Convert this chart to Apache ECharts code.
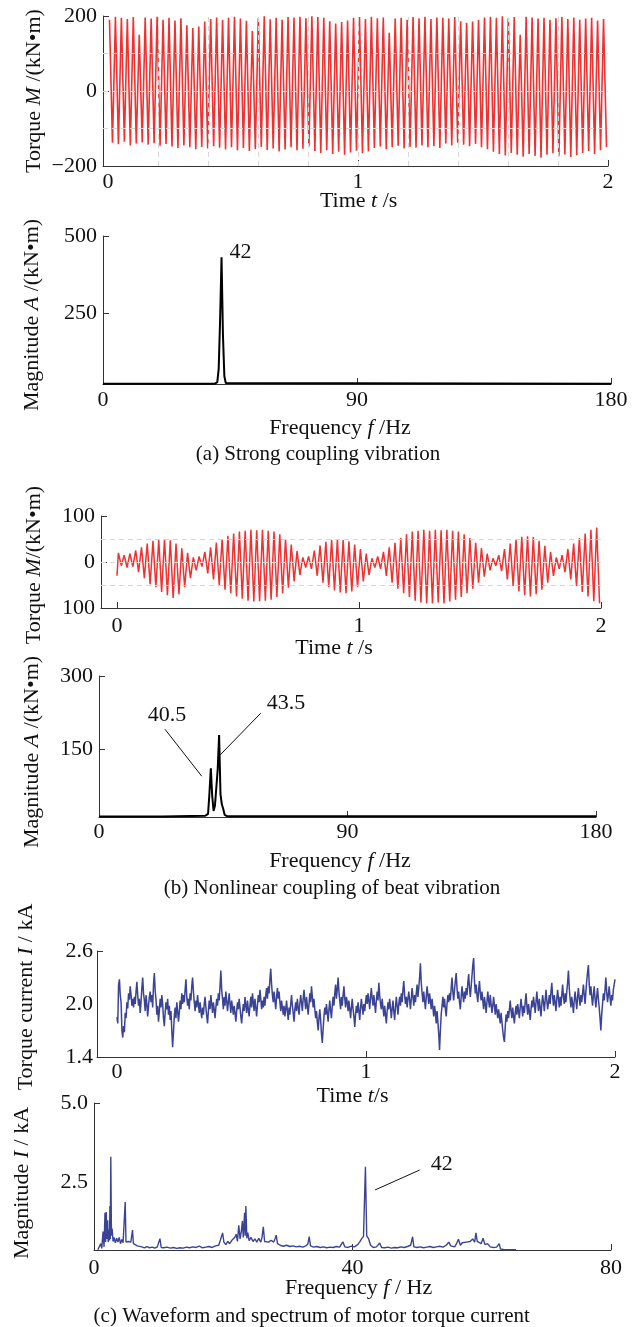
<!DOCTYPE html>
<html>
<head>
<meta charset="utf-8">
<script src="https://cdn.jsdelivr.net/npm/echarts@6/dist/echarts.min.js"></script>
<style>
  html, body { margin: 0; padding: 0; background: #fff; }
  #chart { width: 639px; height: 1327px; }
</style>
</head>
<body>
<div id="chart"></div>
<script>
// ---------- (a) strong coupling: torque waveform, 42 Hz, one crest and one trough per cycle ----------
const HALF_CYCLE = 1 / 84;               // half period of a 42 Hz oscillation, s
const torqueA_crests = [
  190,198,195,192,197,150,196,193,198,190,195,188,194,
  175,168,172,
  185,192,196,190,195,198,193,187,160,194,199,191,195,190,197,
  196,198,194,199,197,195,
  186,180,184,188,
  195,197,192,198,194,196,155,193,195,190,197,194,198,192,196,195,193,197,
  186,182,185,190,
  196,198,195,199,194,197,150,198,196,193,195,190,194,197,192,196,190,193,195,188,192
];
const torqueA_troughs = [
  -138,-142,-135,-145,-140,-137,-143,-139,-146,-141,
  -148,-152,-145,-150,-155,-149,-153,-147,-151,-156,-150,
  -158,-152,-160,-155,-149,-157,-153,-161,-156,-150,-158,-154,-148,
  -160,-165,-158,-168,-162,-170,-164,-159,-166,-161,
  -152,-148,-155,-150,-146,-153,-149,-151,-145,-150,-147,-152,
  -140,-145,-138,-143,-147,-141,-150,-155,
  -162,-168,-172,-165,-170,-175,-168,-173,-178,-170,-166,-174,-169,-176,-171,-165,-160,-168,-158,-150
];
// spectrum of (a): [frequency Hz, magnitude kN·m]
const spectrumA = [
  [0,20.5],[39.5,20.5],[40.5,26],[41,70],[41.5,230],[42,431],[42.5,180],[43,45],[43.5,23],[44,20.5],[180,20.5]
];

// ---------- (b) beat vibration ----------
const torqueB_start = -30;
const torqueB_crests = [
  20,15,18,25,32,40,46,48,50,47,40,30,20,10,
  12,22,32,42,50,57,62,66,68,70,69,70,68,66,60,50,38,24,10,
  12,25,36,44,48,49,48,45,38,28,18,8,
  12,22,32,42,52,60,66,68,70,68,70,69,70,68,66,60,52,42,30,18,8,
  15,28,40,50,55,56,54,46,35,22,10,
  15,28,40,52,62,70,75
];
const torqueB_troughs = [
  -8,-12,-10,-22,-35,-48,-55,-65,-72,-78,-70,-55,-35,-18,
  -10,-25,-38,-50,-60,-68,-75,-80,-84,-86,-85,-84,-82,-76,-68,-56,-42,-28,-12,
  -15,-30,-45,-55,-62,-66,-68,-64,-55,-42,-28,-12,
  -15,-30,-45,-58,-68,-76,-84,-88,-90,-90,-88,-90,-86,-82,-76,-68,-58,-45,-32,-18,-8,
  -20,-38,-52,-64,-72,-75,-70,-60,-45,-30,-15,
  -22,-38,-52,-65,-75,-85,-90
];
const spectrumB = [
  [0,12.5],[23,12.5],[23.5,13.5],[38.5,14],[39.5,18],[40,60],[40.5,111],[41,55],[41.5,24],
  [42,35],[43,110],[43.5,179],[44,58],[44.5,37],[45,28],[45.5,16],[46.5,13],[180,13]
];

// ---------- (c) motor torque current, kA, sampled evenly over 0–2 s ----------
const currentC = [
  1.85,1.78,2.22,2.28,2.10,2.02,1.70,1.62,1.75,1.68,1.90,1.84,2.02,1.95,2.12,2.05,2.20,2.10,1.98,2.06,
  1.96,2.08,2.00,2.14,2.25,2.10,1.98,2.06,1.90,2.02,2.18,2.30,2.12,2.04,1.92,2.10,2.00,1.86,1.98,2.08,
  2.14,2.02,2.10,1.96,2.22,2.35,2.15,2.05,1.88,1.98,1.80,1.92,2.06,1.96,2.10,2.00,1.84,1.75,1.90,2.02,
  1.94,2.06,1.88,1.98,1.82,1.92,1.70,1.51,1.68,1.86,1.96,1.84,2.02,1.92,1.80,1.90,2.04,1.94,2.12,2.00,
  2.10,2.02,2.16,2.28,2.08,1.98,2.06,1.94,2.12,2.04,2.20,2.30,2.14,2.02,1.92,2.04,1.96,2.10,2.00,1.90,
  2.02,1.92,1.84,1.96,1.88,2.00,2.08,1.96,1.86,1.78,1.92,2.04,1.94,2.10,2.00,1.90,2.02,1.94,1.84,1.96,
  2.06,1.98,2.12,2.04,2.20,2.38,2.16,2.06,1.94,2.08,1.98,2.14,2.04,1.92,2.02,2.12,2.00,1.90,2.04,1.96,
  1.88,1.98,1.90,1.80,1.92,2.02,1.94,2.06,1.96,1.86,1.78,1.90,2.00,1.92,2.08,1.98,1.90,2.04,1.94,1.86,
  1.98,2.08,1.96,2.12,2.02,1.92,2.06,1.96,1.86,1.98,2.10,2.02,2.16,2.06,1.94,2.04,1.96,2.08,1.98,2.10,
  2.18,2.06,2.20,2.12,2.28,2.40,2.22,2.10,2.02,2.14,2.04,1.94,2.08,2.18,2.06,2.14,2.02,1.92,2.04,1.96,
  1.88,1.98,1.86,1.94,2.04,1.92,1.82,1.96,1.88,2.00,2.10,1.98,1.90,1.80,1.94,2.02,1.92,2.06,1.96,1.88,
  2.00,2.10,2.02,1.92,2.06,2.16,2.04,1.94,2.08,1.98,1.88,2.00,2.12,2.02,2.20,2.08,1.96,2.06,1.94,1.84,
  1.92,1.80,1.70,1.84,1.94,1.82,1.66,1.56,1.72,1.86,1.96,1.88,2.00,1.90,1.80,1.94,2.04,1.92,1.84,1.98,
  2.08,1.98,2.12,2.22,2.06,2.16,2.30,2.14,2.04,1.94,2.08,1.98,2.10,2.20,2.06,1.96,2.08,2.02,1.92,2.04,
  1.94,1.84,1.96,2.06,1.94,1.86,1.74,1.88,1.98,1.90,2.02,1.92,1.82,1.96,2.06,1.96,1.88,2.00,1.92,2.02,
  2.10,2.00,2.12,2.04,1.94,2.08,2.18,2.06,1.98,2.10,2.00,1.90,2.04,2.14,2.04,2.24,2.10,2.00,1.94,2.06,
  1.96,1.86,1.98,1.88,1.78,1.92,2.02,1.94,2.06,1.96,1.84,1.94,2.04,1.92,1.82,1.96,2.08,1.98,1.88,2.00,
  2.08,1.98,2.12,2.02,2.16,2.26,2.10,2.00,2.08,1.96,2.06,2.14,2.04,1.94,2.06,2.18,2.08,1.98,2.10,2.02,
  2.12,2.22,2.08,2.18,2.30,2.46,2.24,2.12,2.02,2.14,2.04,1.94,2.08,2.20,2.10,2.00,2.12,2.04,1.94,2.06,
  1.96,1.86,1.98,1.90,1.78,1.92,1.80,1.66,1.48,1.70,1.88,1.98,2.08,1.96,2.06,1.94,1.86,2.00,2.10,2.02,
  2.12,2.04,2.18,2.30,2.14,2.04,2.16,2.26,2.35,2.18,2.06,2.14,2.02,1.94,2.08,2.20,2.10,2.02,2.14,2.06,
  2.18,2.10,2.24,2.34,2.18,2.08,2.20,2.32,2.44,2.52,2.26,2.12,2.22,2.10,2.02,2.16,2.26,2.12,2.04,2.14,
  2.04,1.94,2.08,2.00,1.90,2.02,2.14,2.04,1.96,2.10,2.00,1.90,1.98,2.08,1.98,1.88,2.00,1.92,1.84,1.94,
  1.86,1.78,1.90,1.80,1.70,1.62,1.57,1.74,1.88,1.80,1.92,1.84,1.94,2.04,1.92,1.84,1.96,1.86,1.78,1.90,
  1.98,1.88,2.00,1.92,1.84,1.96,2.06,1.96,1.86,1.98,1.90,2.02,2.12,1.98,1.88,2.00,1.92,1.82,1.94,2.04,
  1.96,2.08,2.00,1.90,2.02,2.14,2.02,1.92,2.06,1.96,1.86,2.00,2.10,2.02,1.92,2.04,2.16,2.04,1.94,2.02,
  2.10,2.00,2.14,2.24,2.08,1.98,2.10,2.02,1.92,2.06,2.16,2.06,1.96,2.08,1.98,2.10,2.22,2.08,2.00,2.12,
  2.02,2.14,2.24,2.38,2.18,2.06,1.96,2.08,2.00,1.90,2.04,2.14,2.04,1.94,2.08,2.18,2.06,1.98,2.10,2.02,
  2.12,2.22,2.10,2.00,2.14,2.26,2.36,2.44,2.22,2.10,2.20,2.08,1.98,2.10,2.20,2.06,1.96,2.08,2.18,2.06,
  1.96,1.84,1.70,1.88,2.00,2.12,2.04,2.16,2.30,2.14,2.02,2.10,2.20,2.08,1.98,2.10,2.04,2.16,2.22,2.28
];
const spectrumC = [
  [0.6,0.36],[1.05,0.55],[1.2,0.40],[1.4,0.93],[1.55,0.45],[1.7,1.53],[1.8,0.6],[1.9,1.55],[2.0,0.7],
  [2.12,1.29],[2.2,0.6],[2.3,1.0],[2.4,0.65],[2.46,1.74],[2.52,0.7],[2.6,3.30],[2.7,0.8],[2.8,1.03],
  [2.95,0.62],[3.1,0.75],[3.3,0.58],[3.5,0.72],[3.7,0.6],[3.9,0.75],[4.1,0.55],[4.3,0.68],[4.5,0.58],
  [4.7,0.62],[4.83,1.87],[4.95,0.6],[5.1,0.55],[5.3,0.62],[5.5,0.58],[5.7,0.6],[5.96,0.98],[6.1,0.55],
  [6.4,0.6],[6.7,0.48],[7.0,0.43],[7.4,0.45],[7.8,0.42],[8.2,0.46],[8.6,0.42],[9.0,0.44],[9.4,0.41],
  [9.8,0.45],[10.2,0.71],[10.4,0.43],[10.8,0.42],[11.3,0.44],[11.8,0.41],[12.3,0.43],[12.8,0.40],
  [13.3,0.42],[13.8,0.41],[14.3,0.44],[14.8,0.42],[15.3,0.45],[15.8,0.43],[16.3,0.47],[16.8,0.42],
  [17.3,0.44],[17.8,0.46],[18.3,0.43],[18.8,0.48],[19.3,0.50],[19.6,0.56],[19.9,0.89],[20.1,0.6],
  [20.4,0.52],[20.7,0.62],[21.0,0.55],[21.3,0.65],[21.6,0.6],[21.8,0.75],[22.0,0.85],[22.2,0.62],
  [22.4,1.13],[22.6,0.7],[22.8,0.95],[22.96,1.27],[23.1,0.75],[23.3,1.53],[23.4,0.8],[23.5,1.74],
  [23.65,0.72],[23.8,0.9],[24.0,0.65],[24.3,0.75],[24.6,0.62],[24.9,0.7],[25.2,0.6],[25.5,0.72],
  [25.8,0.6],[26.0,0.75],[26.2,1.08],[26.4,0.62],[26.7,0.68],[27.0,0.6],[27.4,0.66],[27.8,0.6],
  [28.0,0.7],[28.2,0.82],[28.4,0.55],[28.8,0.5],[29.3,0.47],[29.8,0.5],[30.3,0.46],[30.8,0.48],
  [31.3,0.45],[31.8,0.47],[32.3,0.44],[32.8,0.48],[33.1,0.55],[33.3,0.77],[33.5,0.48],[34.0,0.44],
  [34.5,0.46],[35.0,0.43],[35.5,0.45],[36.0,0.42],[36.5,0.44],[37.0,0.43],[37.5,0.46],[38.0,0.44],
  [38.5,0.61],[38.8,0.45],[39.3,0.43],[39.8,0.47],[40.3,0.45],[40.8,0.52],[41.1,0.6],[41.4,0.7],
  [41.7,0.78],[42.0,2.98],[42.2,0.8],[42.5,0.7],[42.8,0.5],[43.2,0.43],[43.7,0.45],[44.2,0.57],
  [44.5,0.43],[45.0,0.42],[45.5,0.44],[46.0,0.41],[46.5,0.43],[47.0,0.42],[47.5,0.45],[48.0,0.43],
  [48.5,0.46],[49.0,0.5],[49.3,0.77],[49.5,0.45],[50.0,0.43],[50.5,0.45],[51.0,0.42],[51.5,0.44],
  [52.0,0.46],[52.5,0.43],[53.0,0.45],[53.5,0.47],[54.0,0.44],[54.5,0.5],[54.9,0.6],[55.2,0.48],
  [55.5,0.5],[55.8,0.45],[56.1,0.55],[56.4,0.69],[56.7,0.5],[57.0,0.58],[57.3,0.52],[57.6,0.6],
  [57.9,0.55],[58.2,0.62],[58.6,0.7],[58.9,0.6],[59.1,0.89],[59.3,0.62],[59.6,0.65],[59.9,0.55],
  [60.2,0.72],[60.5,0.52],[60.9,0.55],[61.3,0.45],[61.8,0.43],[62.3,0.44],[62.7,0.55],[62.9,0.38],
  [63.5,0.36],[64.5,0.36],[65.3,0.36]
];

// tick / label values for every panel
const timeTicks = [0, 1, 2];
const freqTicks180 = [0, 90, 180];
const freqTicks80 = [0, 40, 80];
const ticksA_y = [-200, 0, 200];
const ticksAspec_y = [250, 500];
const ticksB_y = [-100, 0, 100];
const ticksBspec_y = [150, 300];
const ticksC_y = [1.4, 2.0, 2.6];
const ticksCspec_y = [2.5, 5.0];
const gridA_x = [0.2, 0.4, 0.6, 0.8, 1.0, 1.2, 1.4, 1.6, 1.8];
const gridA_y = [-100, 0, 100];
const gridB_y = [-50, 0, 50];

// ---------- helpers ----------
const FONT = 'Liberation Serif';
const FS = 22;
const INK = '#111';
const AXIS = '#333';
const RED = '#f2302e';
const NAVY = '#3b4494';

function oscillation(start, crests, troughs, step) {
  const pts = start === null ? [] : [[0, start]];
  for (let i = 0; i < crests.length; i++) {
    pts.push([(2 * i + 0.5) * step, crests[i]]);
    pts.push([(2 * i + 1.5) * step, troughs[i]]);
  }
  return pts;
}
function evenly(values, t0, t1) {
  const n = values.length;
  return values.map((v, i) => [t0 + (t1 - t0) * i / (n - 1), v]);
}

function axis(gi, min, max, labels, ticks, fmt, margin) {
  return {
    type: 'value', gridIndex: gi, min: min, max: max,
    axisLine: { show: true, onZero: false, lineStyle: { color: AXIS, width: 1 } },
    axisTick: { show: true, inside: true, length: 6, customValues: ticks, lineStyle: { color: AXIS, width: 1 } },
    axisLabel: { show: true, customValues: labels, formatter: fmt, margin: margin,
                 fontFamily: FONT, fontSize: FS, color: INK },
    splitLine: { show: false }
  };
}
const plain = v => String(v);
const signed = v => (v < 0 ? '\u2212' + Math.abs(v) : String(v));
const unsigned = v => String(Math.abs(v));
const oneDec = v => v.toFixed(1);

const dashed = { type: [5, 4], color: '#d6d6d6', width: 1 };
function gridMarks(xs, ys) {
  return {
    silent: true, symbol: ['none', 'none'], label: { show: false }, lineStyle: dashed,
    emphasis: { disabled: true },
    data: xs.map(v => ({ xAxis: v })).concat(ys.map(v => ({ yAxis: v })))
  };
}
function leaders(pairs) {
  return {
    silent: true, symbol: ['none', 'none'], label: { show: false },
    lineStyle: { type: 'solid', color: INK, width: 1 },
    emphasis: { disabled: true },
    data: pairs.map(p => [{ coord: p[0] }, { coord: p[1] }])
  };
}
function notes(items) {
  return {
    silent: true, symbol: 'circle', symbolSize: 1, itemStyle: { color: 'rgba(0,0,0,0)' },
    label: { show: true, position: 'inside', fontFamily: FONT, fontSize: FS, color: INK,
             formatter: p => p.name },
    data: items.map(it => ({ name: it[0], coord: it[1] }))
  };
}

function line(gi, data, color, width, extra) {
  return Object.assign({
    type: 'line', xAxisIndex: gi, yAxisIndex: gi, data: data,
    showSymbol: false, symbol: 'none', animation: false, silent: true,
    lineStyle: { color: color, width: width }, clip: true
  }, extra || {});
}

function txt(x, y, text, rot, size) {
  const fs = size || FS;
  return {
    type: 'text', x: x, y: y, rotation: rot ? Math.PI / 2 : 0, silent: true,
    style: {
      text: text, fill: INK, font: fs + 'px "' + FONT + '"',
      textAlign: 'center', textVerticalAlign: 'middle', verticalAlign: 'middle',
      rich: { i: { fontStyle: 'italic', fontSize: fs, fontFamily: FONT, fill: INK } }
    }
  };
}

const chart = echarts.init(document.getElementById('chart'), null, { renderer: 'canvas' });
chart.setOption({
  animation: false,
  backgroundColor: '#fff',
  grid: [
    { left: 103, top: 16,   width: 505, height: 150 },
    { left: 103, top: 236,  width: 508, height: 148 },
    { left: 101, top: 516,  width: 500, height: 92 },
    { left: 99,  top: 676,  width: 497, height: 141 },
    { left: 97,  top: 951,  width: 518, height: 106 },
    { left: 94,  top: 1103, width: 517, height: 147 }
  ],
  xAxis: [
    axis(0, -0.02, 2, timeTicks, [1, 2], plain, 5),
    axis(1, 0, 180, freqTicks180, [90, 180], plain, 5),
    axis(2, -0.066, 2, timeTicks, [0, 1, 2], plain, 7),
    axis(3, 0, 180, freqTicks180, [90, 180], plain, 4),
    axis(4, -0.08, 2, timeTicks, [1, 2], plain, 4),
    axis(5, 0, 80, freqTicks80, [40, 80], plain, 7)
  ],
  yAxis: [
    axis(0, -200, 200, ticksA_y, [0, 200], signed, 6),
    axis(1, 20, 500, ticksAspec_y, [250, 500], plain, 6),
    axis(2, -100, 100, ticksB_y, [0, 100], unsigned, 6),
    axis(3, 11.5, 300, ticksBspec_y, [150, 300], plain, 6),
    axis(4, 1.4, 2.6, ticksC_y, [2.6], oneDec, 4),
    axis(5, 0.35, 5, ticksCspec_y, [5.0], oneDec, 6)
  ],
  series: [
    line(0, oscillation(null, torqueA_crests, torqueA_troughs, HALF_CYCLE), RED, 1.6,
         { markLine: gridMarks(gridA_x, gridA_y) }),
    line(1, spectrumA, '#000', 2,
         { markPoint: notes([['42', [48.7, 449]]]) }),
    line(2, oscillation(torqueB_start, torqueB_crests, torqueB_troughs, HALF_CYCLE), RED, 1.5,
         { markLine: gridMarks([], gridB_y) }),
    line(3, spectrumB, '#000', 2, {
      markLine: leaders([[[23.9, 191], [37.2, 95]], [[58.6, 224], [43.8, 138]]]),
      markPoint: notes([['40.5', [24.6, 220]], ['43.5', [67.7, 245]]])
    }),
    line(4, evenly(currentC, 0, 2), NAVY, 1.5),
    line(5, spectrumC, NAVY, 1.4, {
      markLine: leaders([[[50.4, 2.88], [43.5, 2.25]]]),
      markPoint: notes([['42', [53.8, 3.06]]])
    })
  ],
  graphic: [
    txt(34.6, 91, 'Torque {i|M} /(kN\u2022m)', true),
    txt(358.6, 201.7, 'Time {i|t} /s'),
    txt(32.6, 315, 'Magnitude {i|A} /(kN\u2022m)', true),
    txt(340, 428.3, 'Frequency {i|f} /Hz'),
    txt(318, 454, '(a) Strong coupling vibration', false, 21),
    txt(34.6, 565, 'Torque {i|M}/(kN\u2022m)', true),
    txt(334, 648.3, 'Time {i|t} /s'),
    txt(32, 752, 'Magnitude {i|A} /(kN\u2022m)', true),
    txt(340, 861.7, 'Frequency {i|f} /Hz'),
    txt(332, 888.3, '(b) Nonlinear coupling of beat vibration', false, 21),
    txt(26.5, 997, 'Torque current {i|I} / kA', true),
    txt(352.5, 1096.7, 'Time {i|t}/s'),
    txt(22.4, 1183, 'Magnitude {i|I} / kA', true),
    txt(358.6, 1288.3, 'Frequency {i|f} / Hz'),
    txt(311.7, 1316.7, '(c) Waveform and spectrum of motor torque current', false, 21)
  ]
});
</script>
</body>
</html>
